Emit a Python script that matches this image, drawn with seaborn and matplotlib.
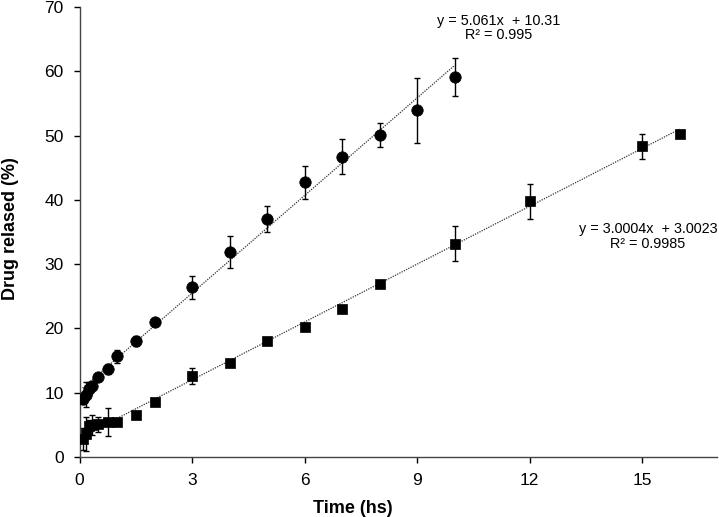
import numpy as np
import pandas as pd
import matplotlib
matplotlib.use("Agg")
import matplotlib.pyplot as plt
import seaborn as sns

# series 1 (circles)
time_a = [0.083, 0.167, 0.25, 0.333, 0.5, 0.75, 1, 1.5, 2, 3, 4, 5, 6, 7, 8, 9, 10]
rel_a = [9.1, 9.7, 10.6, 11.1, 12.4, 13.7, 15.7, 18.1, 21.0, 26.4, 31.9, 37.0, 42.7, 46.7, 50.1, 53.9, 59.1]
err_a = [0.9, 1.9, 1.0, 0.5, 0.5, 0.8, 1.0, 0.8, 0.5, 1.8, 2.5, 2.0, 2.5, 2.7, 1.9, 5.0, 3.0]

# series 2 (squares)
time_b = [0.083, 0.167, 0.25, 0.333, 0.5, 0.75, 1, 1.5, 2, 3, 4, 5, 6, 7, 8, 10, 12, 15, 16]
rel_b = [2.8, 3.6, 4.8, 5.0, 5.1, 5.4, 5.5, 6.5, 8.6, 12.6, 14.6, 18.1, 20.3, 23.0, 26.9, 33.2, 39.8, 48.3, 50.2]
err_b = [1.7, 2.6, 1.0, 1.5, 1.2, 2.2, 0.3, 0.3, 0.3, 1.3, 0.3, 0.3, 0.3, 0.3, 0.3, 2.7, 2.7, 1.9, 0.3]

# linear trendlines (slope, intercept, x range) and labels
fit_a = (5.061, 10.31, 0.083, 10)
fit_b = (3.0004, 3.0023, 1.0, 16)
label_a = ["y = 5.061x  + 10.31", "R\u00b2 = 0.995"]
label_b = ["y = 3.0004x  + 3.0023", "R\u00b2 = 0.9985"]

x_ticks = [0, 3, 6, 9, 12, 15]
y_ticks = [0, 10, 20, 30, 40, 50, 60, 70]

sns.set_style("ticks")
plt.rcParams['font.family'] = ['Liberation Sans', 'DejaVu Sans']

fig = plt.figure(figsize=(7.19, 5.17), dpi=100)
ax = fig.add_axes([0.1106, 0.116, 0.887, 0.8705])

df_a = pd.DataFrame({'t': time_a, 'r': rel_a})
df_b = pd.DataFrame({'t': time_b, 'r': rel_b})

# trendlines
for slope, icpt, x0, x1 in (fit_a, fit_b):
    xs = np.array([x0, x1])
    ax.plot(xs, slope * xs + icpt, linestyle=(0, (1, 1)), color='#333333', lw=0.9, zorder=1)

# error bars
ax.errorbar(time_a, rel_a, yerr=err_a, fmt='none', ecolor='black', elinewidth=1.0, capsize=2.5, capthick=1.0, zorder=2)
ax.errorbar(time_b, rel_b, yerr=err_b, fmt='none', ecolor='black', elinewidth=1.0, capsize=2.5, capthick=1.0, zorder=2)

sns.scatterplot(data=df_a, x='t', y='r', marker='o', s=68, color='black', edgecolor='black', linewidth=0.5, ax=ax, zorder=3)
sns.scatterplot(data=df_b, x='t', y='r', marker='s', s=62, color='black', edgecolor='black', linewidth=0.5, ax=ax, zorder=3)

ax.set_xlim(0, 17)
ax.set_ylim(0, 70)
ax.set_xticks(x_ticks)
ax.set_yticks(y_ticks)
ax.tick_params(labelsize=12.5, length=4.5, width=1, pad=7, direction='out', colors='black')
for s in ('left', 'bottom'):
    ax.spines[s].set_linewidth(1.0)
    ax.spines[s].set_color('#444444')
sns.despine(ax=ax)

ax.set_xlabel('Time (hs)', fontsize=13, fontweight='bold', color='black')
ax.set_ylabel('Drug relased (%)', fontsize=13, fontweight='bold', color='black')
ax.xaxis.set_label_coords(0.428, -0.0956)
ax.yaxis.set_label_coords(-0.0948, 0.507)

ax.text(11.17, 67.85, label_a[0], ha='center', va='center', fontsize=10.4, color='black')
ax.text(11.17, 65.6, label_a[1], ha='center', va='center', fontsize=10.4, color='black')
ax.text(15.15, 35.4, label_b[0], ha='center', va='center', fontsize=10.4, color='black')
ax.text(15.15, 33.1, label_b[1], ha='center', va='center', fontsize=10.4, color='black')

fig.savefig('out.png', dpi=100)
